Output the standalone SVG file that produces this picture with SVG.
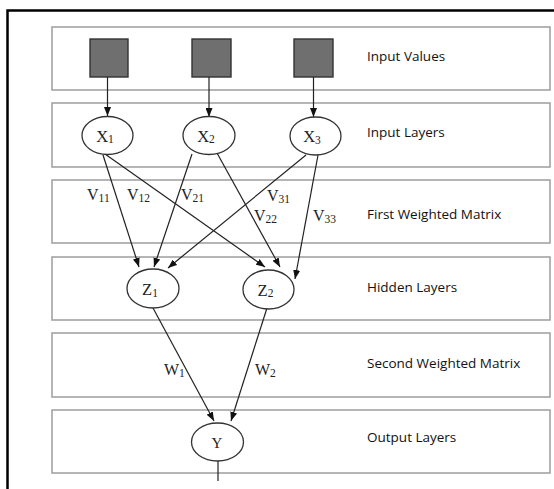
<svg xmlns="http://www.w3.org/2000/svg" width="554" height="489" viewBox="0 0 554 489">
<defs>
<marker id="ah" markerWidth="9" markerHeight="7" refX="9" refY="3.5" orient="auto" markerUnits="userSpaceOnUse">
<path d="M0,0 L9,3.5 L0,7 z" fill="#111"/>
</marker>
<style>
.band{fill:#fff;stroke:#a3a3a3;stroke-width:1.6}
.sq{fill:#6f6f6f;stroke:#333;stroke-width:1.4}
.node{fill:#fff;stroke:#333;stroke-width:1.3}
.conn line{stroke:#222;stroke-width:1.2;marker-end:url(#ah)}
.lbl{font-family:"Open Sans","Noto Sans",sans-serif;font-size:13.5px;fill:#111}
.math{font-family:"Liberation Serif","Times New Roman",serif;font-size:16px;fill:#222}
.nm{font-family:"Liberation Serif","Times New Roman",serif;font-size:16.5px;fill:#222;text-anchor:middle}
.sub{font-size:11.5px}
</style>
</defs>
<rect width="554" height="489" fill="#fff"/>
<path d="M7.5,489 V10.5 H554" fill="none" stroke="#000" stroke-width="2.5"/>

<g id="bands">
<rect class="band" x="52" y="27" width="498" height="63"/>
<rect class="band" x="52" y="103" width="498" height="64"/>
<rect class="band" x="52" y="180" width="498" height="63"/>
<rect class="band" x="52" y="257" width="498" height="63"/>
<rect class="band" x="52" y="333" width="498" height="64"/>
<rect class="band" x="52" y="410" width="498" height="63"/>
</g>

<g id="band-labels">
<text class="lbl" x="367" y="61">Input Values</text>
<text class="lbl" x="367" y="137">Input Layers</text>
<text class="lbl" x="367" y="219">First Weighted Matrix</text>
<text class="lbl" x="367" y="292">Hidden Layers</text>
<text class="lbl" x="367" y="368">Second Weighted Matrix</text>
<text class="lbl" x="367" y="442">Output Layers</text>
</g>

<g id="in1"><rect class="sq" x="90" y="39" width="38" height="38"/></g>
<g id="in2"><rect class="sq" x="192" y="39" width="39" height="38"/></g>
<g id="in3"><rect class="sq" x="294" y="39" width="39" height="38"/></g>

<g class="conn" id="connectors">
<line x1="107.5" y1="77" x2="107.5" y2="116"/>
<line x1="209" y1="77" x2="209" y2="117"/>
<line x1="313.5" y1="77" x2="313.5" y2="117"/>
<line x1="103" y1="155" x2="139" y2="267"/>
<line x1="105" y1="154" x2="265" y2="267"/>
<line x1="192" y1="154" x2="154" y2="267"/>
<line x1="217" y1="153" x2="280" y2="267"/>
<line x1="306" y1="155" x2="168" y2="268"/>
<line x1="318" y1="155" x2="295" y2="279"/>
<line x1="153" y1="308" x2="214" y2="421"/>
<line x1="267" y1="308" x2="231" y2="421"/>
<line x1="218" y1="461" x2="218" y2="481" style="marker-end:none"/>
</g>

<g id="weights">
<text class="math" x="87" y="200">V<tspan class="sub" dy="2">11</tspan></text>
<text class="math" x="127" y="200">V<tspan class="sub" dy="2">12</tspan></text>
<text class="math" x="181" y="200">V<tspan class="sub" dy="2">21</tspan></text>
<text class="math" x="267" y="201">V<tspan class="sub" dy="2">31</tspan></text>
<text class="math" x="254" y="221">V<tspan class="sub" dy="2">22</tspan></text>
<text class="math" x="313" y="221">V<tspan class="sub" dy="2">33</tspan></text>
<text class="math" x="164" y="375">W<tspan class="sub" dy="2">1</tspan></text>
<text class="math" x="255" y="375">W<tspan class="sub" dy="2">2</tspan></text>
</g>

<g id="x1"><ellipse class="node" cx="107.5" cy="135.5" rx="25.5" ry="19"/><text class="nm" x="105" y="141.5">X<tspan class="sub" dy="1.5">1</tspan></text></g>
<g id="x2"><ellipse class="node" cx="209" cy="135.5" rx="26" ry="19"/><text class="nm" x="206" y="141.5">X<tspan class="sub" dy="1.5">2</tspan></text></g>
<g id="x3"><ellipse class="node" cx="315.5" cy="136" rx="25.5" ry="19"/><text class="nm" x="312" y="142">X<tspan class="sub" dy="1.5">3</tspan></text></g>
<g id="z1"><ellipse class="node" cx="153" cy="288.5" rx="26" ry="19.5"/><text class="nm" x="150" y="295">Z<tspan class="sub" dy="1.5">1</tspan></text></g>
<g id="z2"><ellipse class="node" cx="268.5" cy="289.5" rx="25.5" ry="19.5"/><text class="nm" x="265.5" y="295.5">Z<tspan class="sub" dy="1.5">2</tspan></text></g>
<g id="y"><ellipse class="node" cx="217.5" cy="442" rx="26" ry="19"/><text class="nm" x="217" y="447.5" style="font-size:15px">Y</text></g>
</svg>
